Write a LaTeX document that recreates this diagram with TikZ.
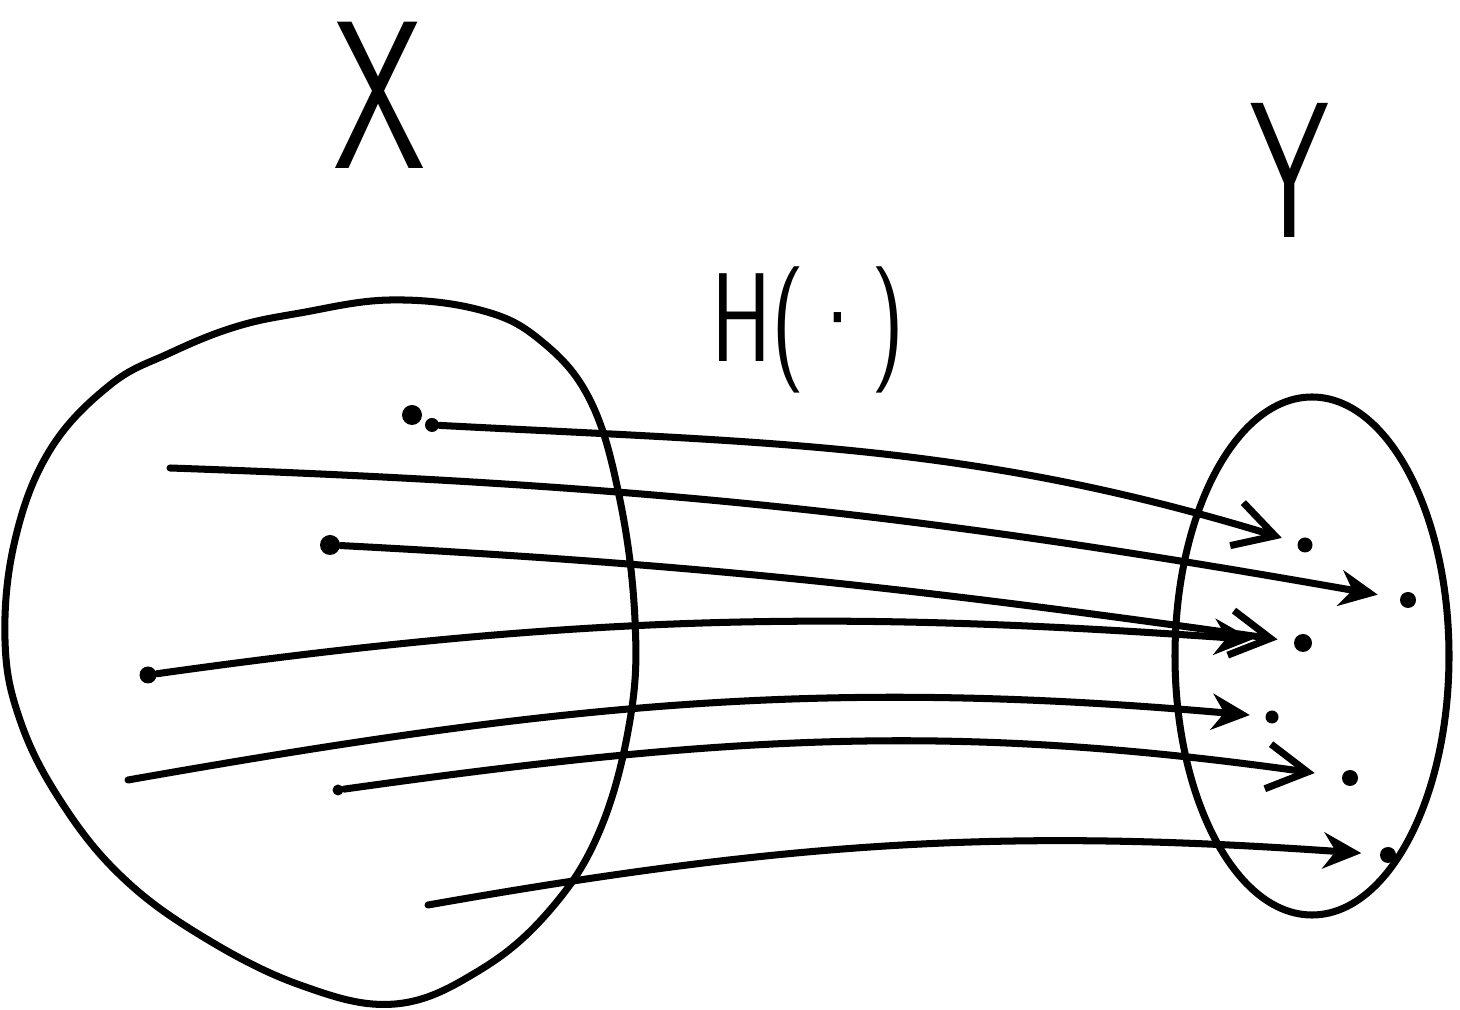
\documentclass[tikz,border=0pt]{standalone}
\usepackage{tikz}
\usetikzlibrary{arrows.meta}

\tikzset{
  spot/.style={circle,fill=black,inner sep=0pt,minimum size=#1},
  spot/.default=1.8mm,
  hand/.style={line width=2pt,line cap=round,line join=round},
  openarr/.style={hand,-{Straight Barb[length=4mm,width=4.5mm]}},
  fullarr/.style={hand,-{Stealth[length=3.8mm,width=3.6mm]}},
  letra/.style={font=\sffamily\fontsize{#1}{#1}\selectfont,inner sep=0pt},
}

\begin{document}
\begin{tikzpicture}

    \useasboundingbox (0,0) rectangle (14.6,10.1);

    % Conjunto X
    \draw[hand] plot[smooth cycle,tension=0.65] coordinates {(1.1,6.25) (1.7,6.57) (2.35,6.83) (3.0,6.97) (3.9,7.1) (4.8,7.0) (5.4,6.7) (5.9,6.1) (6.2,5.1) (6.35,3.9) (6.3,2.9) (6.0,1.8) (5.5,1.0) (4.8,0.4) (3.95,0.06) (3.0,0.25) (2.0,0.75) (1.2,1.35) (0.6,2.1) (0.2,2.9) (0.05,3.7) (0.15,4.7) (0.5,5.6)};

    % Conjunto Y
    \draw[hand] (13.12,3.54) ellipse (1.37 and 2.59);

    % Etiquetas
    \node[letra=60pt,xscale=0.7] (labX) at (3.8,9.15) {X};
    \node[letra=55pt,xscale=0.65] (labY) at (12.9,8.4) {Y};
    \node[letra=36pt,xscale=0.72] (labH) at (8.08,6.8) {H(\textperiodcentered)};

    % Puntos de X
    \node[spot=2mm] (s1) at (4.12,5.95) {};
    \node[spot=1.4mm] (s1b) at (4.32,5.85) {};
    \coordinate (s2) at (1.70,5.42);
    \node[spot=2mm] (s3) at (3.30,4.65) {};
    \node[spot=1.7mm] (s4) at (1.48,3.35) {};
    \coordinate (s5) at (1.28,2.30);
    \node[spot=1.1mm] (s6) at (3.38,2.20) {};
    \coordinate (s7) at (4.28,1.05);

    % Puntos de Y
    \node[spot=1.5mm] (t1) at (13.05,4.65) {};
    \node[spot=1.6mm] (t2) at (14.08,4.10) {};
    \node[spot=1.8mm] (t3) at (13.03,3.67) {};
    \node[spot=1.3mm] (t4) at (12.72,2.93) {};
    \node[spot=1.6mm] (t5) at (13.50,2.32) {};
    \node[spot=1.6mm] (t6) at (13.88,1.55) {};

    % Flechas H
    \draw[openarr,shorten >=1.6mm] (s1b) to[out=-3,in=163] (t1);
    \draw[fullarr,shorten >=2.2mm] (s2) to[out=-2,in=170] (t2);
    \draw[openarr,shorten >=1.6mm] (s3) to[out=-3,in=172] (t3);
    \draw[fullarr,shorten >=4.1mm] (s4) to[out=8,in=176] (t3);
    \draw[fullarr,shorten >=1.5mm] (s5) to[out=10,in=175] (t4);
    \draw[openarr,shorten >=2.7mm] (s6) to[out=8,in=172] (t5);
    \draw[fullarr,shorten >=1.8mm] (s7) to[out=10,in=176] (t6);

\end{tikzpicture}
\end{document}
